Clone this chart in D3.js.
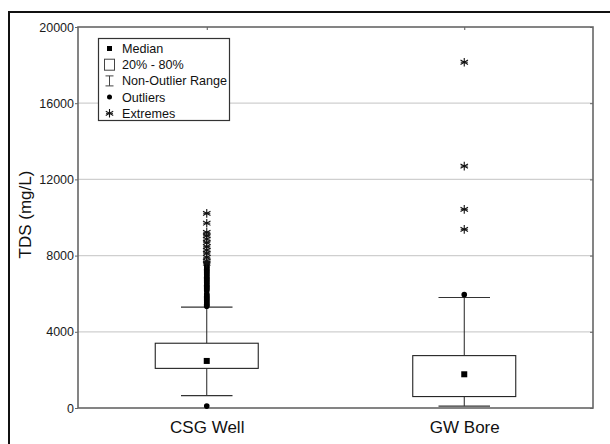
<!DOCTYPE html>
<html>
<head>
<meta charset="utf-8">
<script src="https://cdn.jsdelivr.net/npm/d3@7"></script>
<style>
  html, body { margin: 0; padding: 0; background: #fff; }
  svg { display: block; font-family: "Liberation Sans", Arial, sans-serif; }
</style>
</head>
<body>
<svg id="chart" width="610" height="444"></svg>
<script>
// TDS box plot: CSG wells vs groundwater bores
const categories = ["CSG Well", "GW Bore"];
const q20 = [2080, 600];
const q80 = [3400, 2750];
const medians = [2470, 1770];
const whiskerLow = [650, 100];
const whiskerHigh = [5300, 5800];

const outliersCSG = [100,
  7580, 7520, 7460, 7400, 7350, 7290, 7230, 7170, 7110, 7050, 6990, 6930,
  6870, 6810, 6750, 6690, 6630, 6570, 6510, 6450, 6390, 6330, 6270, 6210,
  6150, 5990, 5930, 5870, 5810, 5750, 5690, 5630, 5570, 5510, 5450, 5390, 5340];
const outliersGW = [5950];
const extremesCSG = [10220, 9700, 9220, 9050, 8870, 8680, 8470, 8290, 8120, 7910, 7720, 7600];
const extremesGW = [9380, 10430, 12700, 18150];

const yTicks = [0, 4000, 8000, 12000, 16000, 20000];
const legendItems = ["Median", "20% - 80%", "Non-Outlier Range", "Outliers", "Extremes"];

const svg = d3.select("#chart");
const plot = { left: 78, right: 593, top: 27, bottom: 408 };

const x = d3.scalePoint().domain(categories).range([plot.left, plot.right]).padding(0.5);
const y = d3.scaleLinear().domain([0, 20000]).range([plot.bottom, plot.top]);
const boxW = (plot.right - plot.left) * 0.2;
const capW = boxW / 2;

// outer frame (left and top edges)
svg.append("path")
  .attr("d", "M9,444 V12 H610")
  .attr("fill", "none").attr("stroke", "#111").attr("stroke-width", 2);

// horizontal grid
svg.append("g").selectAll("line")
  .data(yTicks.filter(t => t > 0 && t < 20000))
  .join("line")
  .attr("x1", plot.left).attr("x2", plot.right)
  .attr("y1", d => y(d)).attr("y2", d => y(d))
  .attr("stroke", "#cfcfcf").attr("stroke-width", 1.2);

// left axis
const yAxis = d3.axisLeft(y).tickValues(yTicks).tickSize(3).tickPadding(1).tickFormat(d3.format("d"));
const gy = svg.append("g").attr("transform", `translate(${plot.left},0)`).call(yAxis);
gy.select(".domain").remove();
gy.selectAll(".tick line").attr("stroke", "#666");
gy.selectAll(".tick text").attr("fill", "#1a1a1a").style("font-size", "12.5px")
  .style("font-family", "'Liberation Sans', Arial, sans-serif");

// right axis ticks (inward)
const yAxisR = d3.axisLeft(y).tickValues(yTicks).tickSize(3).tickFormat("");
const gr = svg.append("g").attr("transform", `translate(${plot.right},0)`).call(yAxisR);
gr.select(".domain").remove();
gr.selectAll(".tick line").attr("stroke", "#666");

// bottom axis labels
const xAxis = d3.axisBottom(x).tickSize(0).tickPadding(13);
const gx = svg.append("g").attr("transform", `translate(0,${plot.bottom})`).call(xAxis);
gx.select(".domain").remove();
gx.selectAll(".tick text").attr("fill", "#111").style("font-size", "17px")
  .style("font-family", "'Liberation Sans', Arial, sans-serif");

// top axis ticks (inward)
const xAxisT = d3.axisBottom(x).tickSize(3).tickFormat("");
const gt = svg.append("g").attr("transform", `translate(0,${plot.top})`).call(xAxisT);
gt.select(".domain").remove();
gt.selectAll(".tick line").attr("stroke", "#555");

// plot frame
svg.append("rect")
  .attr("x", plot.left).attr("y", plot.top)
  .attr("width", plot.right - plot.left).attr("height", plot.bottom - plot.top)
  .attr("fill", "none").attr("stroke", "#666").attr("stroke-width", 1.6);

// y-axis title
svg.append("text")
  .attr("transform", `translate(31,${(plot.top + plot.bottom) / 2 - 3}) rotate(-90)`)
  .attr("text-anchor", "middle")
  .attr("fill", "#111")
  .style("font-size", "17px")
  .text("TDS (mg/L)");

// boxes
const stats = categories.map((c, i) => ({
  cat: c, lo: q20[i], hi: q80[i], med: medians[i], wLo: whiskerLow[i], wHi: whiskerHigh[i]
}));
const g = svg.append("g");
const ink = "#222";

stats.forEach(s => {
  const cx = x(s.cat);
  // whiskers
  g.append("line").attr("x1", cx).attr("x2", cx).attr("y1", y(s.hi)).attr("y2", y(s.wHi))
    .attr("stroke", ink).attr("stroke-width", 1);
  g.append("line").attr("x1", cx).attr("x2", cx).attr("y1", y(s.lo)).attr("y2", y(s.wLo))
    .attr("stroke", ink).attr("stroke-width", 1);
  // caps
  [s.wLo, s.wHi].forEach(v => {
    g.append("line").attr("x1", cx - capW / 2).attr("x2", cx + capW / 2)
      .attr("y1", y(v)).attr("y2", y(v)).attr("stroke", "#333").attr("stroke-width", 1.2);
  });
  // 20-80% box
  g.append("rect")
    .attr("x", cx - boxW / 2).attr("y", y(s.hi))
    .attr("width", boxW).attr("height", y(s.lo) - y(s.hi))
    .attr("fill", "#fff").attr("stroke", ink).attr("stroke-width", 1.1);
  // median marker
  g.append("rect")
    .attr("x", cx - 3).attr("y", y(s.med) - 3).attr("width", 6).attr("height", 6)
    .attr("fill", "#000");
});

// outliers
const outlierData = [
  ...outliersCSG.map(v => ({ cat: categories[0], v })),
  ...outliersGW.map(v => ({ cat: categories[1], v }))
];
g.selectAll("circle.out").data(outlierData).join("circle")
  .attr("class", "out")
  .attr("cx", d => x(d.cat)).attr("cy", d => y(d.v)).attr("r", 2.8)
  .attr("fill", "#000");

// extremes
const extremeData = [
  ...extremesCSG.map(v => ({ cat: categories[0], v })),
  ...extremesGW.map(v => ({ cat: categories[1], v }))
];
const star = d3.symbol().type(d3.symbolAsterisk).size(52);
g.selectAll("path.ext").data(extremeData).join("path")
  .attr("class", "ext")
  .attr("transform", d => `translate(${x(d.cat)},${y(d.v)})`)
  .attr("d", star)
  .attr("fill", "none").attr("stroke", "#111").attr("stroke-width", 1.1);
g.selectAll("line.exth").data(extremeData).join("line")
  .attr("class", "exth")
  .attr("x1", d => x(d.cat) - 3.5).attr("x2", d => x(d.cat) + 3.5)
  .attr("y1", d => y(d.v)).attr("y2", d => y(d.v))
  .attr("stroke", "#111").attr("stroke-width", 1);

// legend
const lg = svg.append("g").attr("transform", "translate(98.5,38.5)");
lg.append("rect").attr("width", 131).attr("height", 82)
  .attr("fill", "#fff").attr("stroke", "#333").attr("stroke-width", 1.2);
const rowY = i => 10 + i * 16.2;
const sx = 11;
legendItems.forEach((t, i) => {
  lg.append("text").attr("x", 23.5).attr("y", rowY(i)).attr("dy", "0.36em")
    .attr("fill", "#111").style("font-size", "12.6px").text(t);
});
// median
lg.append("rect").attr("x", sx - 2.5).attr("y", rowY(0) - 2.5).attr("width", 5).attr("height", 5).attr("fill", "#000");
// 20-80 box
lg.append("rect").attr("x", sx - 5).attr("y", rowY(1) - 5.5).attr("width", 10).attr("height", 11)
  .attr("fill", "#fff").attr("stroke", "#444").attr("stroke-width", 1);
// non-outlier range
lg.append("path")
  .attr("d", `M${sx - 4},${rowY(2) - 5} H${sx + 4} M${sx},${rowY(2) - 5} V${rowY(2) + 5} M${sx - 4},${rowY(2) + 5} H${sx + 4}`)
  .attr("fill", "none").attr("stroke", "#444").attr("stroke-width", 1);
// outlier
lg.append("circle").attr("cx", sx).attr("cy", rowY(3)).attr("r", 2.5).attr("fill", "#000");
// extreme
lg.append("path").attr("transform", `translate(${sx},${rowY(4)})`).attr("d", star)
  .attr("fill", "none").attr("stroke", "#111").attr("stroke-width", 1.1);
lg.append("line").attr("x1", sx - 3.5).attr("x2", sx + 3.5).attr("y1", rowY(4)).attr("y2", rowY(4))
  .attr("stroke", "#111").attr("stroke-width", 1);
</script>
</body>
</html>
